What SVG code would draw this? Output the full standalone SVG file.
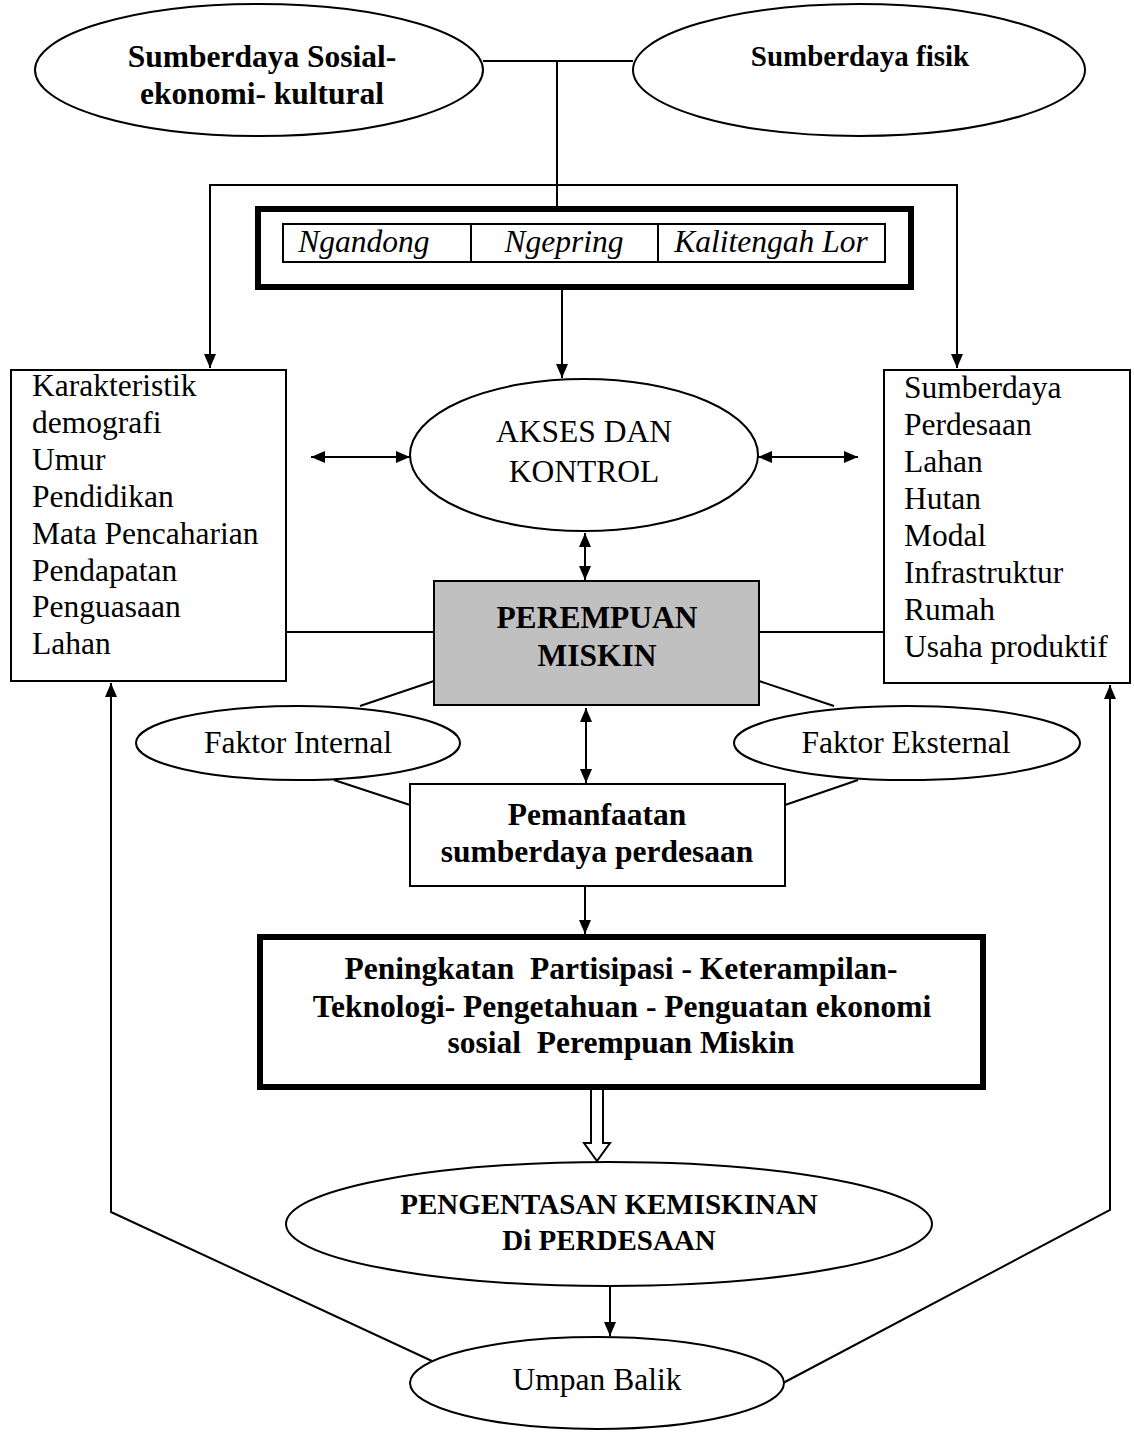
<svg xmlns="http://www.w3.org/2000/svg" width="1134" height="1432" viewBox="0 0 1134 1432">
<style>
text{font-family:"Liberation Serif","Times New Roman",serif;font-size:31.5px;fill:#000}
.b{font-weight:bold}
.i{font-style:italic}
.c{text-anchor:middle}
.sh{fill:#fff;stroke:#000;stroke-width:2}
.thick{fill:#fff;stroke:#000;stroke-width:6}
.ln{fill:none;stroke:#000;stroke-width:2}
</style>
<defs>
<marker id="ah" viewBox="0 0 14 12" refX="14" refY="6" markerWidth="14" markerHeight="12" orient="auto-start-reverse" markerUnits="userSpaceOnUse"><path d="M0,0 L14,6 L0,12 z" fill="#000"/></marker>
</defs>
<rect width="1134" height="1432" fill="#fff"/>

<g id="connectors">
<line class="ln" x1="483" y1="61" x2="633" y2="61"/>
<line class="ln" x1="557" y1="61" x2="557" y2="209"/>
<polyline class="ln" points="210,368 210,185 957,185 957,368" marker-start="url(#ah)" marker-end="url(#ah)"/>
<line class="ln" x1="562" y1="287" x2="562" y2="378" marker-end="url(#ah)"/>
<line class="ln" x1="311" y1="457" x2="410" y2="457" marker-start="url(#ah)" marker-end="url(#ah)"/>
<line class="ln" x1="758" y1="457" x2="858" y2="457" marker-start="url(#ah)" marker-end="url(#ah)"/>
<line class="ln" x1="585" y1="533" x2="585" y2="580" marker-start="url(#ah)" marker-end="url(#ah)"/>
<line class="ln" x1="286" y1="632" x2="434" y2="632"/>
<line class="ln" x1="759" y1="632" x2="884" y2="632"/>
<line class="ln" x1="434" y1="681" x2="360" y2="706"/>
<line class="ln" x1="759" y1="681" x2="834" y2="706"/>
<line class="ln" x1="334" y1="780" x2="410" y2="805"/>
<line class="ln" x1="858" y1="780" x2="785" y2="805"/>
<line class="ln" x1="586" y1="708" x2="586" y2="783" marker-start="url(#ah)" marker-end="url(#ah)"/>
<line class="ln" x1="585" y1="886" x2="585" y2="934" marker-end="url(#ah)"/>
<path d="M591,1088 L603,1088 L603,1143 L610,1143 L597,1161 L584,1143 L591,1143 Z" fill="#fff" stroke="#000" stroke-width="2"/>
<line class="ln" x1="610" y1="1286" x2="610" y2="1336" marker-end="url(#ah)"/>
<polyline class="ln" points="432,1361 111,1212 111,683" marker-end="url(#ah)"/>
<polyline class="ln" points="783,1383 1110,1210 1110,685" marker-end="url(#ah)"/>
</g>

<g id="sosial">
<ellipse class="sh" cx="259" cy="70" rx="224" ry="66"/>
<text class="b c" x="262" y="67">Sumberdaya Sosial-</text>
<text class="b c" x="262" y="104">ekonomi- kultural</text>
</g>

<g id="fisik">
<ellipse class="sh" cx="859" cy="70" rx="226" ry="66"/>
<text class="b c" x="860" y="66" style="font-size:29px">Sumberdaya fisik</text>
</g>

<g id="desa">
<rect class="thick" x="258" y="209" width="653" height="78"/>
<rect class="sh" x="283" y="224" width="602" height="38"/>
<line class="ln" x1="471" y1="224" x2="471" y2="262"/>
<line class="ln" x1="658" y1="224" x2="658" y2="262"/>
<text class="i c" x="364" y="252">Ngandong</text>
<text class="i c" x="564" y="252">Ngepring</text>
<text class="i c" x="771" y="252">Kalitengah Lor</text>
</g>

<g id="akses">
<ellipse class="sh" cx="584" cy="455" rx="174" ry="76"/>
<text class="c" x="584" y="442">AKSES DAN</text>
<text class="c" x="584" y="482">KONTROL</text>
</g>

<g id="demografi">
<rect class="sh" x="11" y="370" width="275" height="311"/>
<text x="32" y="396">Karakteristik</text>
<text x="32" y="433">demografi</text>
<text x="32" y="470">Umur</text>
<text x="32" y="507">Pendidikan</text>
<text x="32" y="544">Mata Pencaharian</text>
<text x="32" y="581">Pendapatan</text>
<text x="32" y="617">Penguasaan</text>
<text x="32" y="654">Lahan</text>
</g>

<g id="sumberdaya">
<rect class="sh" x="884" y="370" width="246" height="313"/>
<text x="904" y="398">Sumberdaya</text>
<text x="904" y="435">Perdesaan</text>
<text x="904" y="472">Lahan</text>
<text x="904" y="509">Hutan</text>
<text x="904" y="546">Modal</text>
<text x="904" y="583">Infrastruktur</text>
<text x="904" y="620">Rumah</text>
<text x="904" y="657">Usaha produktif</text>
</g>

<g id="perempuan">
<rect x="434" y="581" width="325" height="124" fill="#c0c0c0" stroke="#000" stroke-width="2"/>
<text class="b c" x="597" y="628">PEREMPUAN</text>
<text class="b c" x="597" y="666">MISKIN</text>
</g>

<g id="internal">
<ellipse class="sh" cx="298" cy="743" rx="162" ry="37"/>
<text class="c" x="298" y="753">Faktor Internal</text>
</g>

<g id="eksternal">
<ellipse class="sh" cx="907" cy="743" rx="173" ry="37"/>
<text class="c" x="906" y="753">Faktor Eksternal</text>
</g>

<g id="pemanfaatan">
<rect class="sh" x="410" y="784" width="375" height="102"/>
<text class="b c" x="597" y="825">Pemanfaatan</text>
<text class="b c" x="597" y="862">sumberdaya perdesaan</text>
</g>

<g id="peningkatan">
<rect class="thick" x="260" y="937" width="723" height="150"/>
<text class="b c" x="621" y="979" xml:space="preserve">Peningkatan  Partisipasi - Keterampilan-</text>
<text class="b c" x="622" y="1017">Teknologi- Pengetahuan - Penguatan ekonomi</text>
<text class="b c" x="621" y="1053" xml:space="preserve">sosial  Perempuan Miskin</text>
</g>

<g id="pengentasan">
<ellipse class="sh" cx="609" cy="1224" rx="323" ry="62"/>
<text class="b c" x="609" y="1214" style="font-size:29px">PENGENTASAN KEMISKINAN</text>
<text class="b c" x="609" y="1250" style="font-size:29px">Di PERDESAAN</text>
</g>

<g id="umpanbalik">
<ellipse class="sh" cx="597" cy="1383" rx="187" ry="46"/>
<text class="c" x="597" y="1390">Umpan Balik</text>
</g>
</svg>
